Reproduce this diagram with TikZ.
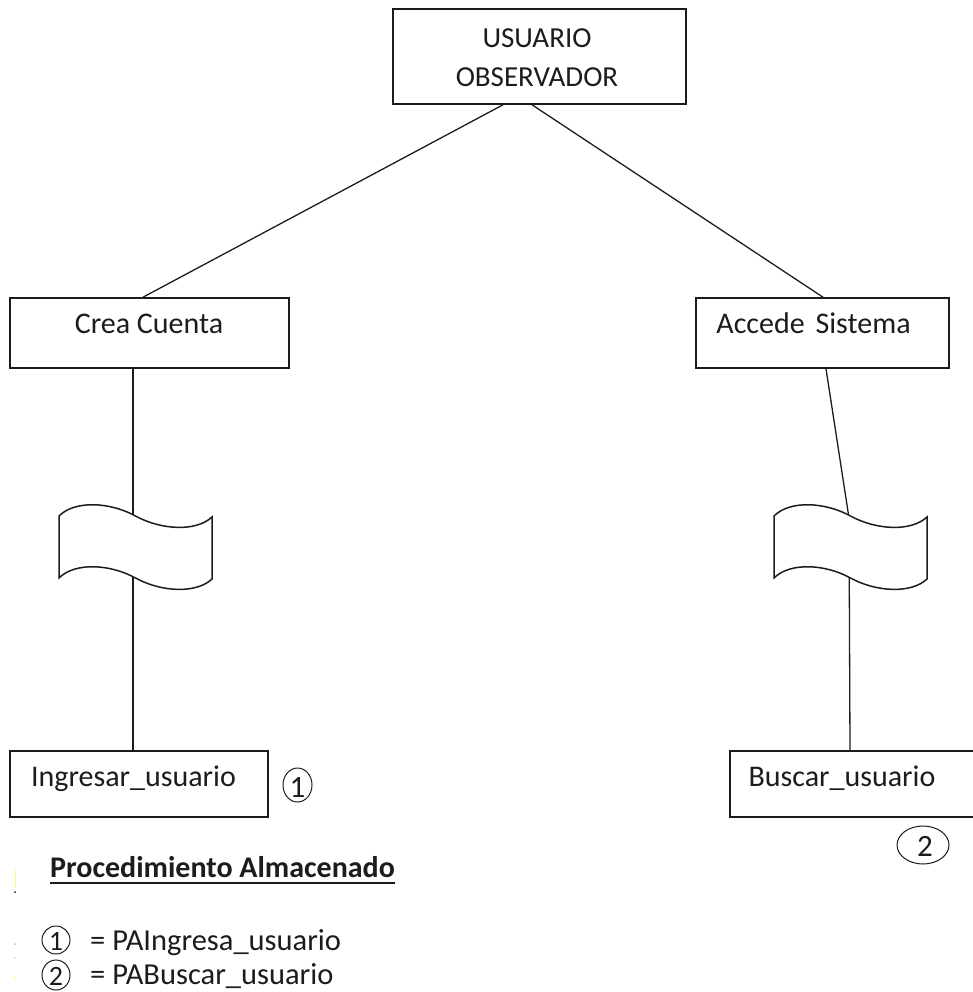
\documentclass[tikz,border=0pt]{standalone}
\usepackage{fontspec}
\setmainfont{Carlito}
\usetikzlibrary{shapes.geometric,calc}
\definecolor{ink}{HTML}{1C1C1C}
\begin{document}
\begin{tikzpicture}[x=1pt,y=-1pt,
  box/.style={draw=ink, line width=1.6pt, inner sep=0pt},
  lbl/.style={font=\fontsize{30}{36}\selectfont, text=ink, inner sep=0pt, anchor=base},
  link/.style={draw=ink, line width=1.3pt},
  flag/.style={draw=ink, line width=1.5pt, fill=white},
  num/.style={ellipse, draw=ink, line width=1pt, inner sep=0pt},
  digit/.style={font=\fontsize{#1}{#1}\selectfont, text=ink, inner sep=0pt},
  flagpic/.pic={
    \path[flag] (0,0) .. controls (16,-16) and (51,-14) .. (76.5,0)
                     .. controls (102,14) and (137,16) .. (153,1)
                -- (153,63) .. controls (137,78) and (102,76) .. (76.5,62)
                     .. controls (51,48) and (16,46) .. (0,62) -- cycle;
  }]
\useasboundingbox (0,0) rectangle (973,992);

% boxes
\node[box, minimum width=293pt, minimum height=95pt] (obs) at (539.5,56.5) {};
\node[lbl, font=\fontsize{29}{35}\selectfont] (obsA) at (537,48) {USUARIO};
\node[lbl, font=\fontsize{29}{35}\selectfont] (obsB) at (537,87) {OBSERVADOR};

\node[box, minimum width=279pt, minimum height=70pt] (crea) at (149.5,333) {};
\node[lbl] (creaT) at (149,333) {Crea Cuenta};

\node[box, minimum width=253pt, minimum height=70pt] (accede) at (822.5,333) {};
\node[lbl] (accedeT) at (813.5,333) {Accede\hspace{4pt} Sistema};

\node[box, minimum width=258pt, minimum height=66pt] (ingresar) at (139,784) {};
\node[lbl] (ingresarT) at (133.5,786) {Ingresar\_usuario};

\node[box, minimum width=244pt, minimum height=66pt] (buscar) at (852,784) {};
\node[lbl] (buscarT) at (842,786) {Buscar\_usuario};

% connectors
\draw[link] ([xshift=-36.5pt]obs.south) -- ([xshift=-6.5pt]crea.north);
\draw[link] ([xshift=-7.5pt]obs.south) -- ([xshift=0.5pt]accede.north);
\draw[link] ([xshift=-16.5pt]crea.south) -- ([xshift=-6pt]ingresar.north);
\coordinate (flagRtop) at (849,518);
\draw[link] ([xshift=3.5pt]accede.south) -- (flagRtop) -- ([xshift=-2pt]buscar.north);

% wavy flags on the vertical links
\pic (flagL) at (59,516) {flagpic};
\pic (flagR) at (774,516) {flagpic};

% stored procedure marks
\node[num, minimum width=29pt, minimum height=34pt] (n1) at (297.5,785) {};
\node[digit=31] (n1d) at (297.5,788) {1};
\node[num, minimum width=52pt, minimum height=38pt] (n2) at (923,845) {};
\node[digit=31] (n2d) at (925,846) {2};

% legend
\node[lbl, font=\bfseries\fontsize{30}{36}\selectfont, anchor=base west] (proc) at (50,877) {Procedimiento Almacenado};
\draw[ink, line width=2pt] ([yshift=-6pt]proc.base west) -- ([yshift=-6pt]proc.base east);

\node[num, minimum width=28pt, minimum height=28pt] (l1) at (56,940) {};
\node[digit=28] (l1d) at (56,941) {1};
\node[lbl, anchor=base west, font=\fontsize{30.5}{36}\selectfont] (l1T) at (90,950) {= PAIngresa\_usuario};
\node[num, minimum width=28pt, minimum height=30pt] (l2) at (56,975) {};
\node[digit=28] (l2d) at (56,976) {2};
\node[lbl, anchor=base west, font=\fontsize{30.5}{36}\selectfont] (l2T) at (90,984) {= PABuscar\_usuario};

% small stray marks in the left margin
\draw[yellow!50, line width=1pt] (15,870) -- (15,888);
\fill[ink] (15,892) circle (1pt);
\fill[orange!60] (15,944) circle (1pt);
\fill[orange!40] (15,958) circle (1pt);
\fill[yellow!60] (15,978) circle (1pt);
\end{tikzpicture}
\end{document}
